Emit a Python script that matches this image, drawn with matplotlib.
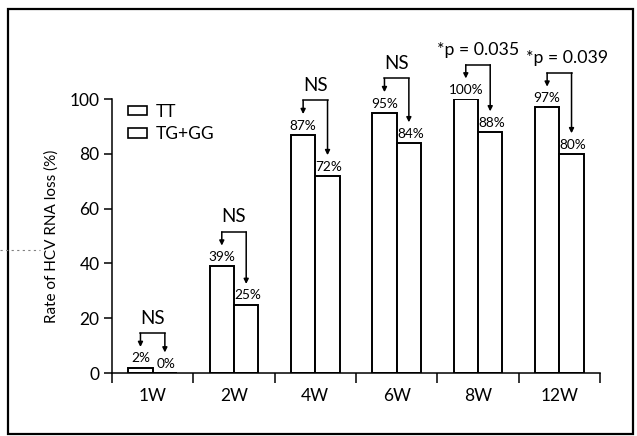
import numpy as np
import matplotlib.pyplot as plt
from matplotlib.patches import Rectangle

plt.rcParams['font.family'] = ['Lato', 'DejaVu Sans']

weeks = ['1W', '2W', '4W', '6W', '8W', '12W']
tt = [2, 39, 87, 95, 100, 97]
tg_gg = [0, 25, 72, 84, 88, 80]
sig = ['NS', 'NS', 'NS', 'NS', '*p = 0.035', '*p = 0.039']

fig = plt.figure(figsize=(6.37, 4.36), dpi=100)
ax = fig.add_axes([112/637, 63/436, 488/637, 274/436])

x = np.arange(len(weeks)) + 0.5
w = 0.3
ax.bar(x - w/2, tt, w, facecolor='white', edgecolor='black', linewidth=1.4, label='TT')
ax.bar(x + w/2, tg_gg, w, facecolor='white', edgecolor='black', linewidth=1.4, label='TG+GG')

for i in range(len(weeks)):
    xl = x[i] - w/2
    xr = x[i] + w/2
    h = max(tt[i], tg_gg[i]) + 12.5
    ax.text(xl, tt[i] + 3.3, '%d%%' % tt[i], ha='center', va='center', fontsize=9.8, clip_on=False)
    ax.text(xr + 0.02, tg_gg[i] + 3.3, '%d%%' % tg_gg[i], ha='center', va='center', fontsize=9.8, clip_on=False)
    ax.plot([xl, xr], [h, h], color='black', lw=1.1, clip_on=False)
    for xx, v in ((xl, tt[i]), (xr, tg_gg[i])):
        ax.annotate('', xy=(xx, v + 7.5), xytext=(xx, h),
                    arrowprops=dict(arrowstyle='-|>', lw=1.1, color='black',
                                    mutation_scale=7, shrinkA=0, shrinkB=0),
                    annotation_clip=False)
    if sig[i] == 'NS':
        ax.text(x[i], h + 5.5, sig[i], ha='center', va='center', fontsize=13.5, clip_on=False)
    else:
        dx = 0.1 if i == len(weeks) - 1 else 0.0
        ax.text(x[i] + dx, h + 5.5, sig[i], ha='center', va='center', fontsize=12.8, clip_on=False)

ax.set_xlim(0, 6)
ax.set_ylim(0, 100)
ax.set_yticks([0, 20, 40, 60, 80, 100])
ax.set_xticks(np.arange(0, 7))
ax.set_xticklabels([])
ax.set_xticks(x, minor=True)
ax.set_xticklabels(weeks, minor=True, fontsize=12.5)
ax.tick_params(axis='x', which='major', direction='out', length=7, width=1.1)
ax.tick_params(axis='x', which='minor', length=0, pad=11)
ax.tick_params(axis='y', direction='out', length=6, width=1.1, labelsize=12.5, pad=3)
ax.spines['top'].set_visible(False)
ax.spines['right'].set_visible(False)
ax.spines['left'].set_linewidth(1.1)
ax.spines['bottom'].set_linewidth(1.1)
ax.set_ylabel('Rate of HCV RNA loss (%)', fontsize=11, labelpad=8)

leg = ax.legend(loc='upper left', bbox_to_anchor=(0.0, 1.04), frameon=False, fontsize=12.5,
                handlelength=1.1, handleheight=0.5, handletextpad=0.5, labelspacing=0.35)
for p in leg.get_patches():
    p.set_linewidth(1.2)

fig.patches.append(Rectangle((8/637, 2/436), 625/637, 425/436, transform=fig.transFigure,
                             fill=False, edgecolor='black', linewidth=1.6))
fig.lines.append(plt.Line2D([0, 40/637], [186/436, 186/436], transform=fig.transFigure,
                            color='gray', lw=0.8, ls=(0, (2, 3))))

fig.savefig('out.png', dpi=100)
